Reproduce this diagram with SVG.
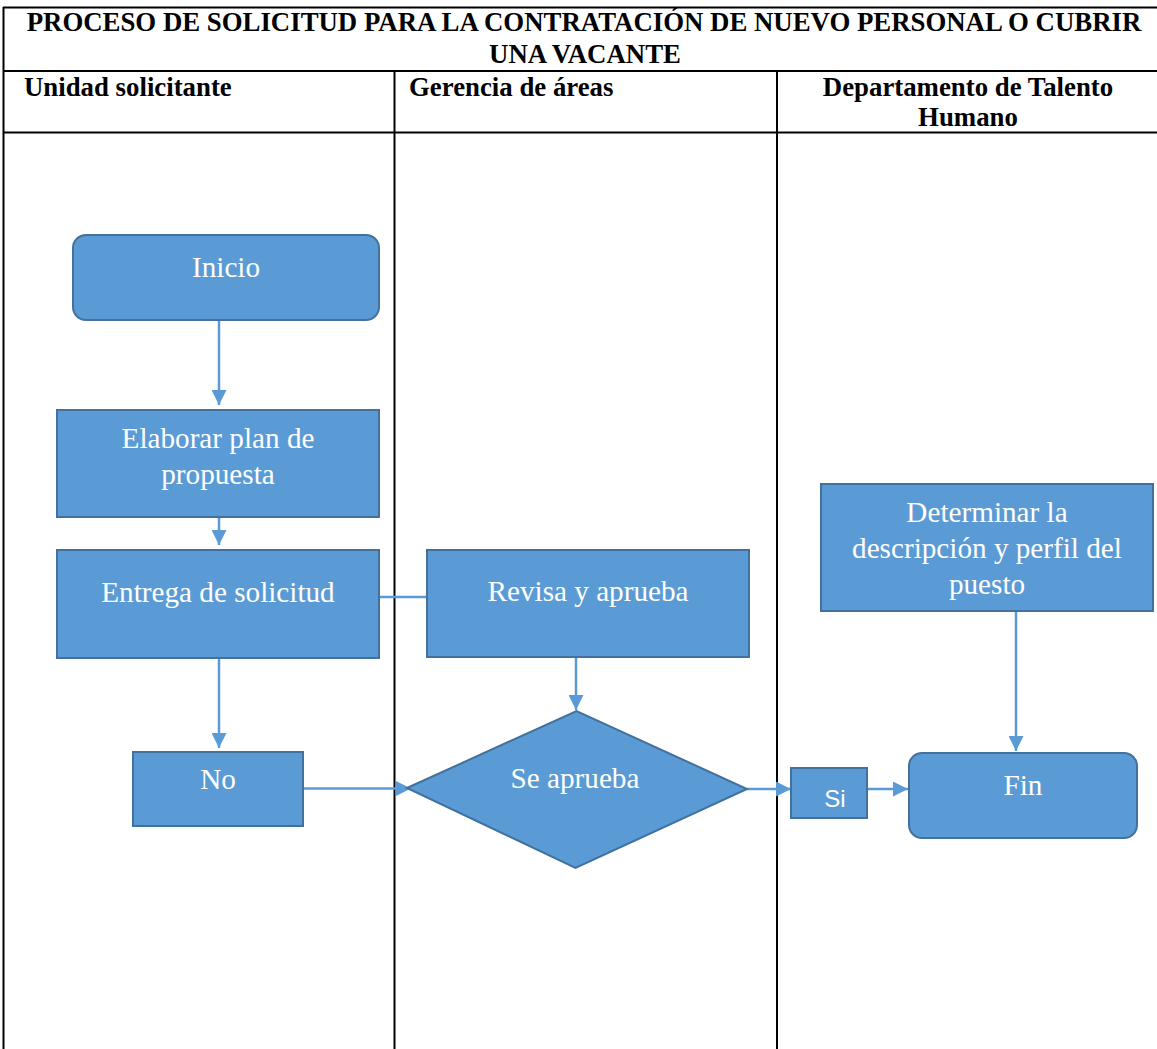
<svg xmlns="http://www.w3.org/2000/svg" width="1157" height="1049" viewBox="0 0 1157 1049">
  <style>
    .grid { stroke: #000; stroke-width: 2; fill: none; }
    .hdr { font-family: "Liberation Serif", "Times New Roman", serif; font-weight: bold; font-size: 26.8px; fill: #000; }
    .box { fill: #5B9BD5; stroke: #41719C; stroke-width: 2; }
    .lbl { font-family: "Liberation Serif", "Times New Roman", serif; font-size: 29.2px; fill: #fff; text-anchor: middle; }
    .lbl-sans { font-family: "Liberation Sans", Arial, sans-serif; font-size: 24px; fill: #fff; text-anchor: middle; }
    .conn { stroke: #5B9BD5; stroke-width: 2.5; fill: none; }
  </style>
  <defs>
    <marker id="arrow" viewBox="0 0 10 10" refX="10" refY="5" markerUnits="userSpaceOnUse" markerWidth="15" markerHeight="15" orient="auto">
      <path d="M0,0 L10,5 L0,10 Z" fill="#5B9BD5"/>
    </marker>
  </defs>

  <rect width="1157" height="1049" fill="#fff"/>

  <!-- swimlane table -->
  <g id="table">
    <line class="grid" x1="3" y1="7.5" x2="1157" y2="7.5"/>
    <line class="grid" x1="3" y1="71" x2="1157" y2="71"/>
    <line class="grid" x1="3" y1="132.5" x2="1157" y2="132.5"/>
    <line class="grid" x1="3.5" y1="7" x2="3.5" y2="1049"/>
    <line class="grid" x1="394.5" y1="71" x2="394.5" y2="1049"/>
    <line class="grid" x1="777" y1="71" x2="777" y2="1049"/>
    <text class="hdr" x="584" y="31" text-anchor="middle">PROCESO DE SOLICITUD PARA LA CONTRATACIÓN DE NUEVO PERSONAL O CUBRIR</text>
    <text class="hdr" x="585" y="63" text-anchor="middle">UNA VACANTE</text>
    <text class="hdr" x="24" y="96">Unidad solicitante</text>
    <text class="hdr" x="409" y="96">Gerencia de áreas</text>
    <text class="hdr" x="968" y="96" text-anchor="middle">Departamento de Talento</text>
    <text class="hdr" x="968" y="126" text-anchor="middle">Humano</text>
  </g>

  <!-- connectors -->
  <g id="connectors">
    <line class="conn" x1="219" y1="320" x2="219" y2="405" marker-end="url(#arrow)"/>
    <line class="conn" x1="219" y1="517" x2="219" y2="545" marker-end="url(#arrow)"/>
    <line class="conn" x1="379" y1="597" x2="427" y2="597"/>
    <line class="conn" x1="219" y1="658" x2="219" y2="748" marker-end="url(#arrow)"/>
    <line class="conn" x1="576" y1="657" x2="576" y2="710" marker-end="url(#arrow)"/>
    <line class="conn" x1="303" y1="788.5" x2="411" y2="788.5" marker-end="url(#arrow)"/>
    <line class="conn" x1="747" y1="789" x2="791" y2="789" marker-end="url(#arrow)"/>
    <line class="conn" x1="868" y1="789" x2="908" y2="789" marker-end="url(#arrow)"/>
    <line class="conn" x1="1016" y1="611" x2="1016" y2="751" marker-end="url(#arrow)"/>
  </g>

  <g id="inicio">
    <rect class="box" x="73" y="235" width="306" height="85" rx="13"/>
    <text class="lbl" x="226" y="277">Inicio</text>
  </g>

  <g id="elaborar">
    <rect class="box" x="57" y="410" width="322" height="107"/>
    <text class="lbl" x="218" y="448">Elaborar plan de</text>
    <text class="lbl" x="218" y="484">propuesta</text>
  </g>

  <g id="entrega">
    <rect class="box" x="57" y="550" width="322" height="108"/>
    <text class="lbl" x="218" y="602">Entrega de solicitud</text>
  </g>

  <g id="revisa">
    <rect class="box" x="427" y="550" width="322" height="107"/>
    <text class="lbl" x="588" y="601">Revisa y aprueba</text>
  </g>

  <g id="se-aprueba">
    <polygon class="box" points="407,788 576.5,711 747,789 575.5,868"/>
    <text class="lbl" x="575" y="788">Se aprueba</text>
  </g>

  <g id="no">
    <rect class="box" x="133" y="752" width="170" height="74"/>
    <text class="lbl" x="218" y="789">No</text>
  </g>

  <g id="si">
    <rect class="box" x="791" y="768" width="76" height="50"/>
    <text class="lbl-sans" x="835" y="807">Si</text>
  </g>

  <g id="fin">
    <rect class="box" x="909" y="753" width="228" height="85" rx="13"/>
    <text class="lbl" x="1023" y="795">Fin</text>
  </g>

  <g id="determinar">
    <rect class="box" x="821" y="484" width="332" height="127"/>
    <text class="lbl" x="987" y="522">Determinar la</text>
    <text class="lbl" x="987" y="558">descripción y perfil del</text>
    <text class="lbl" x="987" y="594">puesto</text>
  </g>
</svg>
